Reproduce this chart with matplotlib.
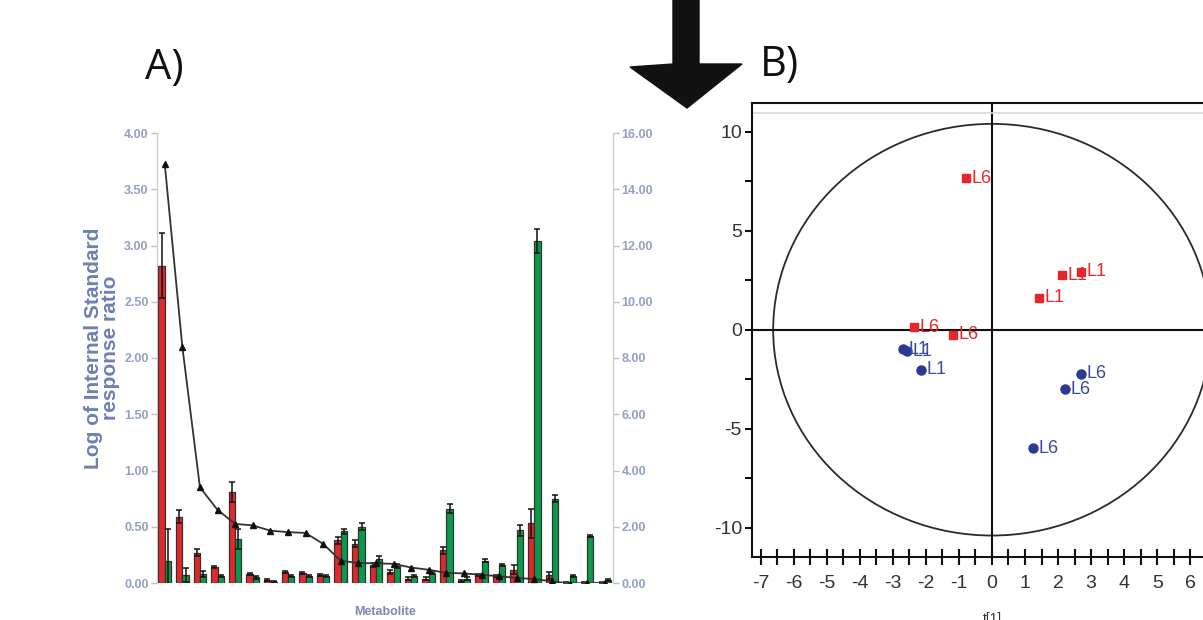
# Panel A: internal standard response ratios per metabolite; panel B: score plot
import numpy as np
import matplotlib
matplotlib.use('Agg')
import matplotlib.pyplot as plt
from matplotlib.patches import Ellipse, Polygon

plt.rcParams['font.family'] = ['Liberation Sans', 'DejaVu Sans']
plt.rcParams['axes.unicode_minus'] = False

# --- panel A data (left axis units) ---
metabolite = np.arange(26)
red = [2.82, 0.59, 0.27, 0.14, 0.81, 0.08, 0.03, 0.10, 0.09, 0.07, 0.38, 0.35, 0.16,
       0.10, 0.04, 0.04, 0.29, 0.02, 0.07, 0.06, 0.12, 0.53, 0.07, 0.00, 0.00, 0.00]
red_err = [0.29, 0.06, 0.03, 0.01, 0.09, 0.01, 0.01, 0.01, 0.01, 0.01, 0.03, 0.03, 0.02,
           0.02, 0.01, 0.01, 0.03, 0.01, 0.01, 0.01, 0.04, 0.13, 0.03, 0.01, 0.01, 0.01]
green = [0.20, 0.07, 0.08, 0.06, 0.39, 0.05, 0.01, 0.06, 0.06, 0.06, 0.46, 0.50, 0.21,
         0.15, 0.06, 0.09, 0.66, 0.04, 0.20, 0.16, 0.47, 3.04, 0.75, 0.06, 0.42, 0.03]
green_err = [0.28, 0.06, 0.03, 0.01, 0.09, 0.01, 0.005, 0.01, 0.01, 0.01, 0.02, 0.03, 0.03,
             0.02, 0.01, 0.01, 0.04, 0.01, 0.01, 0.01, 0.05, 0.11, 0.03, 0.01, 0.01, 0.01]
# line on the right axis
trend = [14.9, 8.4, 3.4, 2.6, 2.1, 2.05, 1.86, 1.81, 1.78, 1.39, 0.79, 0.71, 0.70,
         0.68, 0.55, 0.47, 0.36, 0.34, 0.29, 0.24, 0.18, 0.14, 0.06, -0.02, 0.0, 0.0]
left_ticks = [0, 0.5, 1.0, 1.5, 2.0, 2.5, 3.0, 3.5, 4.0]
right_ticks = [0, 2, 4, 6, 8, 10, 12, 14, 16]

# --- panel B data ---
red_x = [-0.78, -2.37, -1.19, 2.12, 2.68, 1.43]
red_y = [7.66, 0.13, -0.25, 2.74, 2.94, 1.61]
red_lab = ['L6', 'L6', 'L6', 'L1', 'L1', 'L1']
blue_x = [-2.68, -2.58, -2.15, 2.70, 2.20, 1.24]
blue_y = [-1.00, -1.08, -2.02, -2.22, -3.02, -5.98]
blue_lab = ['L1', 'L1', 'L1', 'L6', 'L6', 'L6']
x_labels = [-7, -6, -5, -4, -3, -2, -1, 0, 1, 2, 3, 4, 5, 6]

W, H = 1203, 620
fig = plt.figure(figsize=(W / 100, H / 100), dpi=100)

tick_col = '#93a0c4'
lab_col = '#6f7fb3'
bar_red = '#e3282b'
bar_green = '#0b9a4b'

# ---------------- panel A ----------------
ax = fig.add_axes([157 / W, 1 - 583 / H, (613 - 157) / W, (583 - 133) / H])
w = 0.36
ax.bar(metabolite - w / 2, red, w, color=bar_red, edgecolor='#333333', linewidth=0.9,
       yerr=red_err, error_kw=dict(ecolor='#111111', elinewidth=1.1, capsize=2.5, capthick=1.1))
ax.bar(metabolite + w / 2, green, w, color=bar_green, edgecolor='#333333', linewidth=0.9,
       yerr=green_err, error_kw=dict(ecolor='#111111', elinewidth=1.1, capsize=2.5, capthick=1.1))
ax.set_xlim(-0.44, 25.47)
ax.set_ylim(0, 4)
ax.set_yticks(left_ticks)
ax.set_yticklabels([f'{t:.2f}' for t in left_ticks])
ax.set_xticks([])
for s in ['top', 'right', 'bottom']:
    ax.spines[s].set_visible(False)
ax.spines['left'].set_color('#c8c8c8')
ax.tick_params(axis='y', colors='#c0c0c0', length=4, width=1, pad=2,
               labelcolor=tick_col, labelsize=9)
for t in ax.get_yticklabels():
    t.set_fontweight('bold')

ax_r = ax.twinx()
ax_r.plot(metabolite, trend, color='#333333', lw=1.3, marker='^', ms=5,
          mfc='#111111', mec='#111111')
ax_r.set_ylim(0, 16)
ax_r.set_yticks(right_ticks)
ax_r.set_yticklabels([f'{t:.2f}' for t in right_ticks])
for s in ['top', 'left', 'bottom']:
    ax_r.spines[s].set_visible(False)
ax_r.spines['right'].set_color('#c8c8c8')
ax_r.tick_params(axis='y', colors='#c0c0c0', length=4, width=1, pad=2,
                 labelcolor=tick_col, labelsize=9)
for t in ax_r.get_yticklabels():
    t.set_fontweight('bold')

fig.text(102 / W, 1 - 348 / H, 'Log of Internal Standard\nresponse ratio', rotation=90,
         ha='center', va='center', fontsize=15, fontweight='bold', color=lab_col,
         linespacing=0.85)
fig.text(385 / W, 1 - 612 / H, 'Metabolite', ha='center', va='center', fontsize=9,
         fontweight='bold', color='#7b88b8')
fig.text(164 / W, 1 - 68 / H, 'A)', ha='center', va='center', fontsize=30,
         family=['Open Sans', 'DejaVu Sans'], color='#111111')

# ---------------- arrow ----------------
arrow_px = [(673, 0), (699, 0), (699, 64), (742, 64), (687, 108), (630, 67), (673, 64)]
fig.add_artist(Polygon([(x / W, 1 - y / H) for x, y in arrow_px], closed=True,
                       facecolor='#111111', edgecolor='#111111', transform=fig.transFigure))

# ---------------- panel B ----------------
x0 = 751.7
xmax = 7.27
ppu = 33.05
bx = fig.add_axes([x0 / W, 1 - 556.7 / H, 2 * xmax * ppu / W, (556.7 - 102.7) / H])
bx.set_xlim(-xmax, xmax)
bx.set_ylim(-11.47, 11.47)
bx.add_patch(Ellipse((0, 0), 2 * 6.62, 2 * 10.4, fill=False, edgecolor='#2a2a2a', lw=1.3))
bx.axhline(0, color='#111111', lw=1.5)
bx.axvline(0, color='#111111', lw=1.5)
bx.axhline(10.94, color='#d8d8e4', lw=1.2)
bx.plot(red_x, red_y, 's', color='#e8262a', ms=6, ls='none')
bx.plot(blue_x, blue_y, 'o', color='#2b3990', ms=6.5, ls='none')
for x, y, s in zip(red_x, red_y, red_lab):
    bx.annotate(s, (x, y), xytext=(4, 0), textcoords='offset points', va='center',
                ha='left', fontsize=13, color='#e8262a')
for x, y, s in zip(blue_x, blue_y, blue_lab):
    bx.annotate(s, (x, y), xytext=(4, 0), textcoords='offset points', va='center',
                ha='left', fontsize=13, color='#3a4a9e')
bx.set_xticks(x_labels)
bx.set_xticks(np.arange(-7, 7.5, 0.5), minor=True)
bx.set_yticks([-10, -5, 0, 5, 10])
bx.set_yticks(np.arange(-10, 10.1, 2.5), minor=True)
bx.tick_params(axis='x', which='both', direction='inout', length=11, width=1.5,
               labelsize=14, colors='#111111', labelcolor='#333333', pad=8)
bx.tick_params(axis='y', which='both', direction='out', length=5, width=1.5,
               labelsize=14, colors='#111111', labelcolor='#333333', pad=2)
for s in bx.spines.values():
    s.set_linewidth(1.5)
    s.set_color('#111111')
fig.text(992 / W, 1 - 612 / H, 't[1]', ha='center', va='top', fontsize=10, color='#333333')
fig.text(779 / W, 1 - 65 / H, 'B)', ha='center', va='center', fontsize=30,
         family=['Open Sans', 'DejaVu Sans'], color='#111111')

fig.savefig('out.png', dpi=100)
